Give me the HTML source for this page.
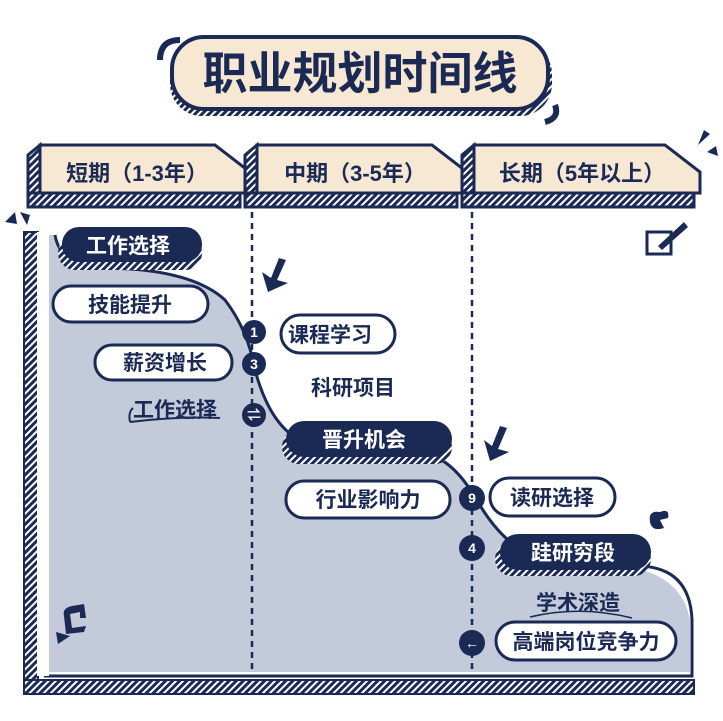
<!DOCTYPE html>
<html><head><meta charset="utf-8"><style>
html,body{margin:0;padding:0;background:#fff}
svg{display:block}
text{font-family:"Liberation Sans","Noto Sans CJK SC",sans-serif;font-weight:bold}
</style></head><body>
<svg width="723" height="721" viewBox="0 0 723 721" xmlns="http://www.w3.org/2000/svg">
<defs>
<pattern id="h" width="5" height="5" patternUnits="userSpaceOnUse" patternTransform="rotate(45)">
<rect width="5" height="5" fill="#1b2a55"/><rect width="2" height="5" fill="#fff"/>
</pattern>
</defs>
<!-- Title -->
<path d="M160 60 Q160 40 180 40" stroke="#1b2a55" stroke-width="6" fill="none"/>
<path d="M555 105 Q560 118 545 122" stroke="#1b2a55" stroke-width="6" fill="none"/>
<rect x="170" y="42" width="382" height="74" rx="32" fill="url(#h)"/>
<rect x="172" y="37" width="376" height="72" rx="32" fill="#f6e8d2" stroke="#1b2a55" stroke-width="4"/>
<text x="360" y="89" font-size="45" text-anchor="middle" fill="#1b2a55">职业规划时间线</text>

<!-- header tabs -->
<g stroke="#1b2a55" stroke-width="3">
<path d="M28 155 L40 145 L40 207 L28 207Z" fill="url(#h)"/>
<rect x="28" y="193" width="212" height="14" fill="url(#h)"/>
<path d="M40 145 L215 145 L250 172 L250 193 L40 193Z" fill="#f6e8d2"/>
<path d="M245 155 L257 145 L257 207 L245 207Z" fill="url(#h)"/>
<rect x="245" y="193" width="212" height="14" fill="url(#h)"/>
<path d="M257 145 L432 145 L467 172 L467 193 L257 193Z" fill="#f6e8d2"/>
<path d="M462 155 L474 145 L474 207 L462 207Z" fill="url(#h)"/>
<rect x="462" y="193" width="232" height="14" fill="url(#h)"/>
<path d="M474 145 L665 145 L700 172 L700 193 L474 193Z" fill="#f6e8d2"/>
</g>
<text x="137" y="181" font-size="22" text-anchor="middle" fill="#1b2a55">短期（1-3年）</text>
<text x="355" y="181" font-size="22" text-anchor="middle" fill="#1b2a55">中期（3-5年）</text>
<text x="582" y="181" font-size="22" text-anchor="middle" fill="#1b2a55">长期（5年以上）</text>
<path d="M698 145 L704 130 L710 134Z M707 152 L716 146 L718 156Z" fill="#1b2a55"/>
<path d="M5 222 L15 212 L17 224Z M20 212 L30 215 L27 225Z" fill="#1b2a55"/>
<rect x="647" y="232" width="24" height="22" fill="none" stroke="#1b2a55" stroke-width="3"/>
<path d="M658 246 L684 222 L688 227 L662 250Z" fill="#1b2a55"/>

<!-- main frame -->
<rect x="24" y="232" width="14" height="462" fill="url(#h)" stroke="#1b2a55" stroke-width="2"/>
<rect x="24" y="680" width="670" height="14" fill="url(#h)" stroke="#1b2a55" stroke-width="2"/>
<path d="M44 235 L55 235 Q60 265 100 268 Q190 268 225 300 Q248 330 255 370 Q270 425 300 440 L430 450 Q455 462 478 502 Q500 540 530 555 L600 565 Q680 565 690 620 L690 672 L44 672Z" fill="#c3cad9"/>
<path d="M55 235 Q60 265 100 268 Q190 268 225 300 Q248 330 255 370 Q270 425 300 440" fill="none" stroke="#1b2a55" stroke-width="3"/>
<path d="M430 455 Q455 462 478 502 Q500 540 530 555" fill="none" stroke="#1b2a55" stroke-width="3"/>
<path d="M640 566 Q690 568 692 620 L692 676 L44 676" fill="none" stroke="#1b2a55" stroke-width="3"/>
<rect x="37" y="232" width="12" height="444" fill="#fff"/>

<!-- dashed lines -->
<line x1="252" y1="212" x2="252" y2="672" stroke="#1b2a55" stroke-width="2.5" stroke-dasharray="6,5"/>
<line x1="472" y1="212" x2="472" y2="672" stroke="#1b2a55" stroke-width="2.5" stroke-dasharray="6,5"/>

<!-- dark pills -->
<rect x="58" y="236" width="144" height="34" rx="17" fill="url(#h)"/>
<rect x="62" y="227" width="140" height="35" rx="17" fill="#1b2a55"/>
<text x="128" y="253" font-size="21" text-anchor="middle" fill="#fff">工作选择</text>
<rect x="282" y="430" width="170" height="34" rx="17" fill="url(#h)"/>
<rect x="286" y="421" width="166" height="36" rx="18" fill="#1b2a55"/>
<text x="364" y="447" font-size="21" text-anchor="middle" fill="#fff">晋升机会</text>
<rect x="495" y="542" width="156" height="34" rx="17" fill="url(#h)"/>
<rect x="500" y="534" width="151" height="36" rx="18" fill="#1b2a55"/>
<text x="573" y="560" font-size="21" text-anchor="middle" fill="#fff">跬研穷段</text>

<!-- white pills -->
<g fill="#fff" stroke="#1b2a55" stroke-width="3">
<rect x="53" y="286" width="155" height="36" rx="18"/>
<rect x="95" y="345" width="137" height="35" rx="17"/>
<rect x="281" y="315" width="114" height="38" rx="19"/>
<rect x="286" y="481" width="164" height="37" rx="18"/>
<rect x="490" y="478" width="125" height="38" rx="19"/>
<rect x="496" y="622" width="180" height="38" rx="19"/>
</g>
<g font-size="21" text-anchor="middle" fill="#1b2a55">
<text x="130" y="312">技能提升</text>
<text x="165" y="370">薪资增长</text>
<text x="330" y="342">课程学习</text>
<text x="368" y="507">行业影响力</text>
<text x="552" y="505">读研选择</text>
<text x="586" y="649">高端岗位竞争力</text>
<text x="353" y="395">科研项目</text>
<text x="175" y="417">工作选择</text>
<text x="578" y="610">学术深造</text>
</g>
<path d="M130 422 Q128 412 133 408 M130 422 Q180 416 220 418" fill="none" stroke="#1b2a55" stroke-width="2"/>
<path d="M530 617 Q580 605 632 618" fill="none" stroke="#1b2a55" stroke-width="1.5"/>

<!-- circles -->
<g fill="#1b2a55"><circle cx="254" cy="332" r="12"/><circle cx="254" cy="364" r="12"/><circle cx="254" cy="415" r="12"/>
<circle cx="472" cy="498" r="13"/><circle cx="472" cy="548" r="13"/><circle cx="472" cy="643" r="13"/></g>
<g fill="#fff" font-size="14" text-anchor="middle">
<text x="254" y="337">1</text><text x="254" y="369">3</text><text x="254" y="420">⇌</text>
<text x="472" y="503">9</text><text x="472" y="553">4</text><text x="472" y="648">←</text></g>

<!-- arrows -->
<path d="M262 272 L268 292 L288 283 L277 280 L286 260 L279 258 L271 278Z" fill="#1b2a55"/>
<path d="M484 440 L490 461 L509 452 L498 449 L507 428 L500 426 L492 446Z" fill="#1b2a55"/>
<!-- decorations -->
<path d="M660 512 Q648 510 650 522 Q652 532 664 528 L660 520 L668 518 Q670 508 660 512Z" fill="#1b2a55"/>
<path d="M64 616 Q62 608 72 606 L84 604 L86 618 L80 618 L80 612 L70 614 L72 628 L86 626 L84 632 L66 634Z M56 632 L70 636 L58 644Z" fill="#1b2a55"/>
</svg>
</body></html>
